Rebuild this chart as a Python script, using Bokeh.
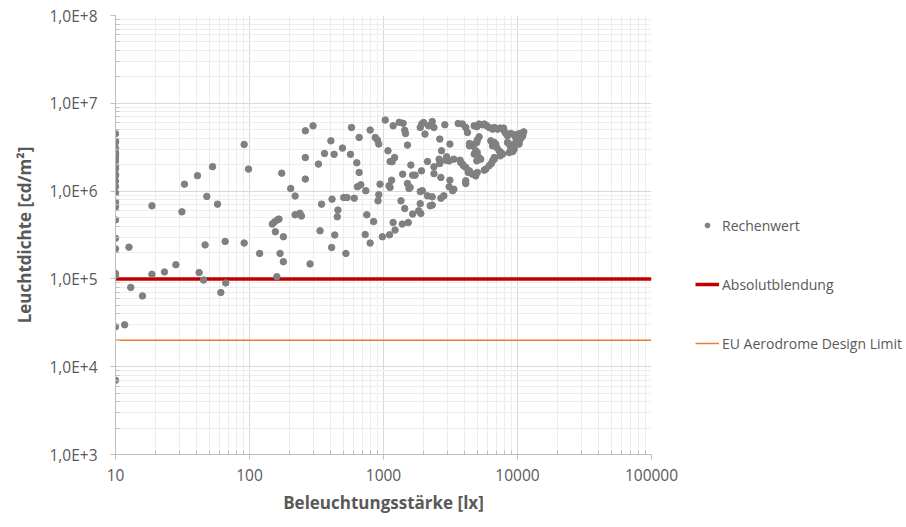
from bokeh.plotting import figure
from bokeh.models import Range1d, FixedTicker, CustomJSTickFormatter, Legend, LegendItem
from bokeh.embed import file_html
from bokeh.resources import INLINE

# ---- data ----
lux_col10 = [10] * 25
lum_col10 = [4.5e6, 3.7e6, 3.6e6, 3.1e6, 2.75e6, 2.6e6, 2.4e6, 2.2e6, 1.9e6, 1.8e6,
             1.55e6, 1.5e6, 1.3e6, 1.13e6, 9.6e5, 7.5e5, 7.1e5, 6.6e5, 4.7e5, 2.9e5,
             2.2e5, 1.15e5, 1.1e5, 2.85e4, 7.0e3]

lux_low = [11.7, 12.6, 13.0, 15.9, 18.7, 18.7, 23.2, 28.2, 31.3, 32.7, 40.9, 42.1,
           45.4, 46.6, 48.0, 53.0, 57.7, 61.1, 65.8, 66.5, 91.2, 91.2, 98.3]
lum_low = [3.0e4, 2.3e5, 8.0e4, 6.4e4, 6.8e5, 1.13e5, 1.2e5, 1.45e5, 5.8e5, 1.2e6,
           1.5e6, 1.18e5, 9.7e4, 2.44e5, 8.7e5, 1.9e6, 7.1e5, 7.0e4, 2.67e5, 9.0e4,
           3.4e6, 2.56e5, 1.78e6]

lux_mid = [119, 156, 148, 154, 162, 166, 160, 169, 179, 179, 174, 203, 219, 219, 238,
           244, 261, 298, 261, 261, 283, 327, 336, 345, 363, 405, 413, 410, 428, 433,
           457, 452, 494, 505, 535, 524, 567, 577, 605, 632, 658, 658, 639, 677, 738,
           730, 750, 795, 795, 843, 868, 902, 922, 942, 922, 910, 981, 1030, 1080,
           1120, 1100, 1110]
lum_mid = [1.95e5, 3.44e5, 4.21e5, 4.47e5, 4.71e5, 4.8e5, 1.06e5, 1.95e5, 3.02e5,
           1.57e5, 1.6e6, 1.07e6, 8.8e5, 5.37e5, 5.6e5, 5.2e5, 4.86e6, 5.54e6, 2.41e6,
           1.37e6, 1.48e5, 2.03e6, 3.53e5, 7.1e5, 2.68e6, 3.74e6, 8.1e5, 2.28e5,
           2.62e6, 3.16e5, 6.08e5, 5.1e5, 3.09e6, 8.45e5, 8.45e5, 1.95e5, 2.62e6,
           5.3e6, 8.3e5, 2.1e6, 4.08e6, 1.63e6, 1.12e6, 1.18e6, 1.01e6, 3.2e5, 5.37e5,
           4.95e6, 2.56e5, 4.5e5, 4.08e6, 3.81e6, 3.43e6, 1.2e6, 9.1e5, 7.75e5,
           3.02e5, 6.44e6, 2.88e6, 2.17e6, 1.15e6, 3.18e5]

lux_high = [1180, 1310, 1400, 1440, 1460, 1510, 1210, 1160, 1120, 1150, 1600, 1390,
            1650, 1720, 1510, 1580, 1550, 1920, 1950, 1880, 2130, 1930, 1990, 1880,
            2040, 2170, 2310, 2380, 2380, 2380, 2630, 2710, 2600, 2630, 2870, 3130,
            2960, 2920, 3090, 3350, 2680, 3130, 3090, 3280, 3350, 2820, 2680, 2310,
            2130, 2310, 2230, 1880, 1350, 1440, 1830, 1900, 1650, 1530, 1380, 1180,
            1220, 3610, 3880, 4110, 4230, 3770, 3960, 3730, 4110, 4110, 4290, 4380,
            4380]
lum_high = [5.54e6, 6.08e6, 5.92e6, 4.93e6, 4.53e6, 3.34e6, 2.41e6, 2.16e6, 1.1e6,
            1.33e6, 1.98e6, 1.56e6, 1.52e6, 1.52e6, 1.22e6, 1.1e6, 1.07e6, 1.7e6,
            1.01e6, 9.9e5, 2.17e6, 5.8e6, 6.04e6, 5.3e6, 4.46e6, 5.54e6, 6.2e6, 5.3e6,
            1.89e6, 1.58e6, 3.91e6, 2.88e6, 2.31e6, 2.06e6, 5.69e6, 3.43e6, 2.46e6,
            2.25e6, 2.21e6, 2.31e6, 1.43e6, 1.33e6, 1.12e6, 1.01e6, 1.05e6, 8.83e5,
            8.3e5, 8.6e5, 8.83e5, 6.93e5, 6.8e5, 7.2e5, 7.75e5, 6.34e5, 5.97e5,
            5.56e5, 5.47e5, 4.39e5, 4.21e5, 4.39e5, 3.6e5, 5.89e6, 5.8e6, 5.3e6,
            4.65e6, 2.12e6, 1.94e6, 2.25e6, 1.31e6, 1.22e6, 1.63e6, 3.28e6, 3.48e6]

lux_top = [4745, 4970, 5170, 5480, 5650, 5900, 6140, 6510, 6710, 7090, 7420, 7870,
           7950, 8170, 8420, 8910, 9430, 9700, 10100, 10580, 10700, 10400, 10100,
           5170, 5010, 4750, 4610, 4970, 4880, 5010, 4750, 5170, 4970, 5320, 6320,
           6710, 6880, 6510, 7000, 7290, 7500, 7750, 7420, 8420, 8670, 8820, 9220,
           9430, 9700, 9990, 10270, 8910, 8670, 9220, 9430, 6710, 6510, 6380, 6140,
           5800, 5650, 5010, 4880, 4610, 4380, 4110, 3880, 6710, 10970, 11140]
lum_top = [5.54e6, 5.4e6, 5.8e6, 5.69e6, 5.8e6, 5.54e6, 5.3e6, 5.08e6, 5.3e6, 5.08e6,
           5.22e6, 5.22e6, 4.86e6, 4.53e6, 4.26e6, 4.53e6, 4.38e6, 4.08e6, 4.46e6,
           4.53e6, 4.08e6, 3.81e6, 3.58e6, 4.15e6, 3.81e6, 3.43e6, 3.28e6, 3.58e6,
           2.88e6, 2.75e6, 2.64e6, 2.41e6, 2.21e6, 2.31e6, 3.74e6, 3.58e6, 3.43e6,
           3.28e6, 3.14e6, 2.88e6, 2.75e6, 2.64e6, 2.52e6, 3.58e6, 3.43e6, 3.28e6,
           3.14e6, 3.37e6, 3.58e6, 3.74e6, 3.43e6, 2.93e6, 2.75e6, 2.82e6, 3.01e6,
           2.31e6, 2.21e6, 2.06e6, 1.94e6, 1.78e6, 1.73e6, 1.63e6, 1.49e6, 1.56e6,
           1.7e6, 1.86e6, 2.03e6, 2.41e6, 4.26e6, 4.73e6]

x_limits = [10, 100000]
y_limits = [1e3, 1e8]
abs_limit = 1e5        # Absolutblendung
eu_limit = 2e4         # EU Aerodrome Design Limit

series_names = ["Rechenwert", "Absolutblendung", "EU Aerodrome Design Limit"]
x_title = "Beleuchtungsstärke [lx]"
y_title = "Leuchtdichte [cd/m²]"

lux = lux_col10 + lux_low + lux_mid + lux_high + lux_top
lum = lum_col10 + lum_low + lum_mid + lum_high + lum_top

FONT = "Open Sans"
TXT = "#595959"

p = figure(frame_width=536, frame_height=439,
           x_axis_type="log", y_axis_type="log",
           x_range=Range1d(*x_limits), y_range=Range1d(*y_limits),
           output_backend="svg", toolbar_location=None,
           min_border_left=115, min_border_right=250, min_border_top=15,
           min_border_bottom=70)
p.outline_line_color = None
p.background_fill_color = "white"
p.border_fill_color = "white"

decades_x = [10 ** k for k in range(1, 6)]
decades_y = [10 ** k for k in range(3, 9)]
minor_x = [m * d for d in decades_x[:-1] for m in range(2, 10)]
minor_y = [m * d for d in decades_y[:-1] for m in range(2, 10)]

p.xaxis.ticker = FixedTicker(ticks=decades_x, minor_ticks=minor_x)
p.yaxis.ticker = FixedTicker(ticks=decades_y, minor_ticks=minor_y)
p.xaxis.formatter = CustomJSTickFormatter(code="return tick.toFixed(0);")
p.yaxis.formatter = CustomJSTickFormatter(code="return '1,0E+' + Math.round(Math.log10(tick));")

for ax in (p.xaxis, p.yaxis):
    ax.axis_line_color = "#BFBFBF"
    ax.major_tick_line_color = "#BFBFBF"
    ax.minor_tick_line_color = "#BFBFBF"
    ax.major_tick_out = 5
    ax.major_tick_in = 0
    ax.minor_tick_in = 4
    ax.minor_tick_out = 0
    ax.major_label_text_font = FONT
    ax.major_label_text_font_size = "15.5px"
    ax.major_label_text_color = TXT
    ax.axis_label_text_font = FONT
    ax.axis_label_text_font_size = "17px"
    ax.axis_label_text_font_style = "bold"
    ax.axis_label_text_color = TXT

p.xaxis.axis_label = x_title
p.yaxis.axis_label = y_title
p.xaxis.major_label_standoff = 9
p.xaxis.axis_label_standoff = 7
p.yaxis.major_label_standoff = 13
p.yaxis.axis_label_standoff = 10

p.xgrid.grid_line_color = "#D9D9D9"
p.ygrid.grid_line_color = "#D9D9D9"
p.xgrid.minor_grid_line_color = "#EDEDED"
p.ygrid.minor_grid_line_color = "#EDEDED"

r_orange = p.line(x=x_limits, y=[eu_limit, eu_limit], line_color="#ED7D31", line_width=1.5)
r_red = p.line(x=x_limits, y=[abs_limit, abs_limit], line_color="#C00000", line_width=3.5)
r_pts = p.scatter(x=lux, y=lum, size=6.5, marker="circle",
                  fill_color="#808080", line_color="#808080")

legend = Legend(items=[LegendItem(label=series_names[0], renderers=[r_pts]),
                       LegendItem(label=series_names[1], renderers=[r_red]),
                       LegendItem(label=series_names[2], renderers=[r_orange])],
                location=(44, 101), orientation="vertical",
                glyph_width=24, glyph_height=12, label_height=20,
                label_standoff=3, spacing=39, padding=0, margin=0,
                label_text_font=FONT, label_text_font_size="14px",
                label_text_color=TXT, background_fill_alpha=0,
                border_line_alpha=0)
p.add_layout(legend, "right")

open("out.html", "w").write(file_html(p, INLINE))
